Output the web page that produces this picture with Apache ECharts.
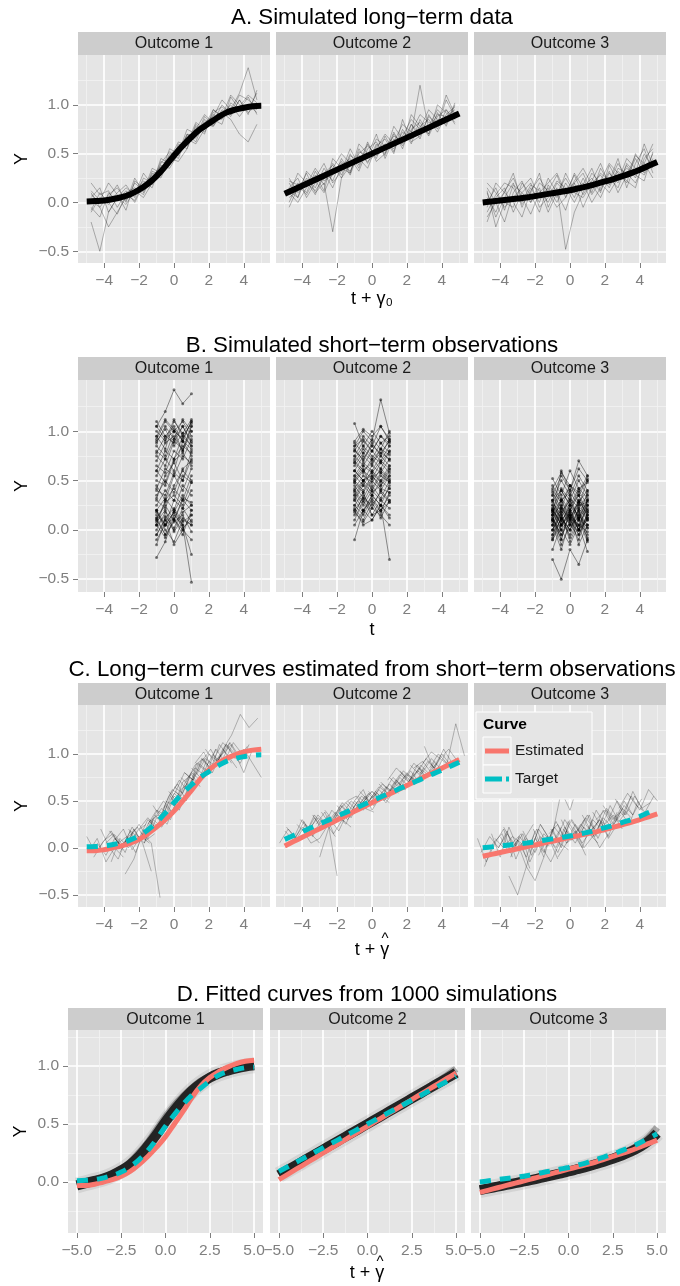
<!DOCTYPE html>
<html><head><meta charset="utf-8">
<script src="https://cdn.jsdelivr.net/npm/echarts@6/dist/echarts.min.js"></script>
<style>html,body{margin:0;padding:0;background:#fff}#c{width:680px;height:1286px}</style>
</head><body><div id="c"></div>
<script>
// ---------------- DATA ----------------
const facetNames = ['Outcome 1', 'Outcome 2', 'Outcome 3'];
const panelTitles = ['A. Simulated long\u2212term data', 'B. Simulated short\u2212term observations',
  'C. Long\u2212term curves estimated from short\u2212term observations', 'D. Fitted curves from 1000 simulations'];
const xTitles = ['t + \u03b3\u2080', 't', 't + \u03b3', 't + \u03b3'];
const xTitleHats = [false, false, true, true];
const yTitle = 'Y';
const legendTitle = 'Curve';
const legendItems = ['Estimated', 'Target'];

const xTicksABC = [-4, -2, 0, 2, 4];
const xLabelsABC = ['\u22124', '\u22122', '0', '2', '4'];
const xMinorABC = [-5, -3, -1, 1, 3, 5];
const xTicksD = [-5, -2.5, 0, 2.5, 5];
const xLabelsD = ['\u22125.0', '\u22122.5', '0.0', '2.5', '5.0'];
const xMinorD = [-3.75, -1.25, 1.25, 3.75];
const yTicksABC = [-0.5, 0, 0.5, 1];
const yLabelsABC = ['\u22120.5', '0.0', '0.5', '1.0'];
const yTicksD = [0, 0.5, 1];
const yLabelsD = ['0.0', '0.5', '1.0'];
const yMinor = [-0.25, 0.25, 0.75, 1.25];

// smooth curves, evaluated at curveX
const curveX = [-5,-4.5,-4,-3.5,-3,-2.5,-2,-1.5,-1,-0.5,0,0.5,1,1.5,2,2.5,3,3.5,4,4.5,5];
const target1 = [0.01,0.014,0.02,0.035,0.055,0.085,0.13,0.19,0.27,0.37,0.48,0.58,0.67,0.75,0.81,0.87,0.92,0.95,0.97,0.985,0.99];
const target2 = [0.09,0.131,0.172,0.213,0.254,0.295,0.336,0.377,0.418,0.459,0.5,0.541,0.582,0.623,0.664,0.705,0.746,0.787,0.828,0.869,0.91];
const target3 = [0.0,0.01,0.02,0.03,0.04,0.05,0.065,0.08,0.095,0.11,0.125,0.145,0.165,0.19,0.215,0.24,0.27,0.3,0.335,0.375,0.415];
const estimate1 = [-0.03,-0.03,-0.02,0.0,0.02,0.05,0.09,0.15,0.22,0.3,0.39,0.5,0.61,0.73,0.83,0.9,0.95,0.99,1.02,1.04,1.05];
const estimate2 = [0.02,0.066,0.112,0.158,0.204,0.25,0.296,0.342,0.388,0.434,0.48,0.526,0.572,0.618,0.664,0.71,0.756,0.802,0.848,0.894,0.94];
const estimate3 = [-0.09,-0.07,-0.05,-0.03,-0.01,0.01,0.03,0.05,0.07,0.09,0.11,0.13,0.15,0.17,0.195,0.22,0.245,0.27,0.3,0.33,0.36];
// bundle of 1000 fitted curves (panel D): dense core and upper spread
const bandCore1 = [-0.03,-0.01,0.01,0.03,0.06,0.1,0.15,0.22,0.31,0.41,0.52,0.62,0.71,0.79,0.85,0.9,0.935,0.96,0.98,0.995,1.005];
const bandCore2 = [0.06,0.104,0.148,0.192,0.236,0.28,0.324,0.368,0.412,0.456,0.5,0.544,0.588,0.632,0.676,0.72,0.764,0.808,0.852,0.896,0.94];
const bandCore3 = [-0.07,-0.055,-0.04,-0.025,-0.01,0.005,0.02,0.037,0.054,0.072,0.09,0.11,0.13,0.152,0.175,0.2,0.228,0.26,0.3,0.35,0.42];
const bandUpper1 = [-0.02,0.0,0.02,0.04,0.07,0.11,0.17,0.25,0.34,0.45,0.56,0.66,0.74,0.81,0.87,0.91,0.945,0.97,0.99,1.005,1.02];
const bandUpper2 = [0.07,0.114,0.158,0.202,0.246,0.29,0.334,0.378,0.422,0.466,0.51,0.554,0.598,0.642,0.686,0.73,0.776,0.822,0.868,0.918,0.975];
const bandUpper3 = [-0.06,-0.045,-0.03,-0.015,0.0,0.015,0.03,0.047,0.064,0.082,0.1,0.12,0.14,0.162,0.186,0.212,0.242,0.278,0.322,0.38,0.47];

// long-term simulated trajectories (panel A), observed at longX
const longX = [-4.75,-4.25,-3.75,-3.25,-2.75,-2.25,-1.75,-1.25,-0.75,-0.25,0.25,0.75,1.25,1.75,2.25,2.75,3.25,3.75,4.25,4.75];
const longTerm1 = [
  [0.1,-0.05,0.08,0.15,0.02,0.2,0.12,0.35,0.3,0.5,0.48,0.7,0.62,0.85,0.78,0.95,0.88,1.05,0.92,1.0],
  [-0.1,0.05,-0.02,0.1,0.18,0.05,0.25,0.2,0.42,0.38,0.6,0.55,0.8,0.72,0.9,0.85,1.02,0.95,1.08,0.9],
  [0.2,0.08,0.12,-0.05,0.1,0.15,0.08,0.3,0.25,0.45,0.62,0.58,0.75,0.9,0.82,1.0,0.9,0.98,1.1,1.02],
  [0.05,0.15,-0.1,0.05,-0.02,0.12,0.22,0.15,0.4,0.52,0.45,0.68,0.72,0.78,0.95,0.88,1.1,1.0,0.95,1.12],
  [-0.05,-0.15,0.1,0.02,0.12,0.0,0.18,0.28,0.35,0.42,0.58,0.62,0.66,0.88,0.8,0.92,0.85,0.7,0.62,0.8],
  [0.12,0.02,0.2,0.08,-0.08,0.22,0.15,0.22,0.3,0.55,0.5,0.75,0.7,0.82,0.88,1.05,0.95,1.12,1.38,1.05],
  [-0.2,-0.5,-0.1,0.05,0.15,0.08,0.3,0.18,0.45,0.4,0.52,0.6,0.82,0.75,0.85,0.8,1.08,0.95,1.0,0.95],
  [0.08,0.0,0.05,0.18,0.0,0.25,0.1,0.32,0.28,0.48,0.55,0.65,0.6,0.75,0.92,0.98,0.9,1.05,0.9,1.15],
  [-0.08,0.1,0.0,-0.12,0.08,0.02,0.2,0.25,0.38,0.35,0.5,0.7,0.68,0.8,0.78,0.9,1.0,0.88,1.0,0.92],
  [0.02,-0.05,-0.25,-0.1,0.05,0.12,0.05,0.2,0.32,0.45,0.42,0.55,0.78,0.7,0.95,0.88,0.92,1.1,1.05,0.98]
];
const longTerm2 = [
  [0.2,0.05,0.25,0.15,0.35,0.22,0.45,0.3,0.55,0.4,0.6,0.5,0.72,0.55,0.8,0.65,0.9,0.75,0.95,0.85],
  [0.0,0.2,0.1,0.32,0.18,0.4,0.28,0.5,0.35,0.6,0.45,0.68,0.52,0.75,0.6,0.85,0.7,0.92,0.78,1.0],
  [0.15,0.25,0.05,0.2,0.3,0.15,0.38,0.45,0.32,0.55,0.62,0.48,0.7,0.58,0.75,0.82,0.68,0.88,0.95,0.8],
  [0.05,0.12,0.3,0.1,0.2,-0.3,0.25,0.38,0.48,0.42,0.5,0.6,0.55,0.72,0.65,0.78,0.85,0.72,0.9,0.98],
  [0.25,0.1,0.18,0.35,0.22,0.28,0.4,0.32,0.5,0.58,0.48,0.55,0.68,0.62,0.8,0.7,0.78,0.95,0.85,0.92],
  [-0.05,0.15,0.22,0.08,0.3,0.38,0.25,0.48,0.42,0.45,0.65,0.58,0.62,0.8,0.72,0.9,0.82,0.78,1.05,0.88],
  [0.1,0.0,0.15,0.28,0.12,0.45,0.35,0.3,0.6,0.5,0.55,0.7,0.6,0.68,0.85,0.75,0.95,0.85,0.8,1.02],
  [0.22,0.18,0.08,0.25,0.4,0.2,0.32,0.55,0.38,0.62,0.42,0.5,0.78,0.65,0.7,1.2,0.75,0.9,0.88,0.95],
  [0.08,0.3,0.2,0.12,0.25,0.35,0.5,0.4,0.45,0.35,0.58,0.65,0.5,0.85,0.62,0.68,0.88,0.8,1.1,0.9],
  [0.12,0.05,0.32,0.22,0.1,0.3,0.42,0.28,0.52,0.48,0.7,0.45,0.65,0.6,0.9,0.78,0.7,1.0,0.92,0.82]
];
const longTerm3 = [
  [0.1,-0.15,0.05,0.2,-0.05,0.15,0.0,0.25,0.1,-0.08,0.2,0.3,0.1,0.35,0.2,0.4,0.25,0.45,0.3,0.5],
  [-0.2,0.05,0.15,-0.1,0.1,0.2,-0.05,0.05,0.22,0.15,0.0,0.18,0.35,0.12,0.3,0.2,0.38,0.25,0.5,0.35],
  [0.15,0.0,-0.2,0.1,0.22,0.0,0.15,-0.1,0.1,0.25,0.1,0.05,0.2,0.28,0.15,0.35,0.3,0.2,0.4,0.6],
  [-0.05,0.2,0.1,0.0,-0.15,0.12,0.25,0.1,-0.05,0.05,0.3,0.15,0.25,0.1,0.38,0.22,0.45,0.35,0.28,0.45],
  [0.05,-0.1,0.12,0.25,0.05,-0.12,0.1,0.2,0.3,0.1,0.2,-0.05,0.15,0.3,0.22,0.45,0.15,0.4,0.55,0.3],
  [0.2,0.1,-0.05,0.05,0.15,0.25,0.05,0.15,0.0,0.2,0.05,0.25,0.08,0.22,0.4,0.3,0.2,0.5,0.35,0.42],
  [-0.1,0.08,0.2,0.15,-0.02,0.1,0.3,-0.05,0.15,-0.48,-0.1,0.1,0.3,0.2,0.1,0.25,0.35,0.28,0.22,0.52],
  [0.0,0.15,-0.08,0.18,0.1,0.0,0.2,0.12,0.28,0.05,0.22,0.35,0.18,0.05,0.25,0.15,0.4,0.3,0.6,0.38],
  [0.12,-0.25,0.0,-0.05,0.2,0.08,-0.1,0.18,0.05,0.3,0.12,0.2,0.0,0.15,0.32,0.1,0.28,0.48,0.4,0.25],
  [-0.15,0.0,0.1,0.3,0.0,0.18,0.12,0.0,0.2,0.1,0.28,0.08,0.22,0.4,0.18,0.32,0.22,0.15,0.45,0.55]
];

// short-term observations (panel B) at shortT; panel C shifts each subject by its estimated gamma
const shortT = [-1, -0.5, 0, 0.5, 1];
const gammaHat1 = [-4.0,-3.6,-3.2,-2.9,-2.6,-2.3,-2.0,-1.8,-1.5,-1.2,-1.0,-0.7,-0.4,-0.1,0.2,0.5,0.8,1.1,1.4,1.7,2.0,2.3,2.6,2.9,3.2,3.5,3.8,4.0,-3.9,-0.2,
  -3.4,-2.7,-2.1,-1.6,-0.9,-0.5,0.0,0.4,1.0,1.6,2.2,2.8,3.3,-2.4,0.7];
const shortObs1 = [
  [0.12,-0.05,0.08,0.15,-0.02],[-0.1,0.05,0.18,0.02,0.1],[0.2,0.0,-0.12,0.1,0.05],[0.05,0.14,0.02,0.22,0.08],
  [-0.15,0.1,0.0,0.18,0.25],[0.1,-0.05,0.2,0.05,-0.25],[0.0,0.18,0.1,0.3,0.2],[-0.28,-0.12,0.15,0.05,-0.53],
  [0.12,0.25,0.1,0.32,0.28],[0.15,0.05,0.3,0.22,0.4],[0.2,0.32,0.2,0.45,0.35],[0.05,0.3,0.42,0.3,0.55],
  [0.3,0.22,0.45,0.6,0.5],[0.35,0.5,0.38,0.62,0.7],[0.32,0.55,0.68,0.5,0.8],[0.5,0.45,0.7,0.78,0.65],
  [0.55,0.72,0.6,0.9,0.82],[0.6,0.8,0.72,0.95,0.85],[0.75,0.65,0.9,0.82,1.05],[0.7,0.88,0.95,0.8,1.0],
  [0.85,0.75,1.0,0.92,1.1],[0.78,0.95,0.88,1.05,0.9],[0.95,0.82,1.1,0.98,0.85],[0.88,1.05,0.92,1.12,1.0],
  [1.0,0.9,1.12,0.95,1.08],[0.92,1.1,1.0,0.8,1.05],[1.05,1.2,1.42,1.28,1.38],[1.1,0.95,1.05,0.9,0.75],
  [-0.05,0.1,-0.15,0.0,-0.1],[0.45,0.3,0.55,0.4,0.62],
  [0.05,-0.08,0.1,0.0,0.15],[0.18,0.05,0.12,-0.05,0.2],[-0.05,0.12,0.22,0.08,0.15],[0.2,0.05,0.18,0.35,0.25],
  [0.1,0.28,0.35,0.25,0.48],[0.25,0.4,0.3,0.55,0.48],[0.4,0.35,0.58,0.5,0.72],[0.42,0.62,0.55,0.75,0.68],
  [0.65,0.58,0.8,0.72,0.92],[0.8,0.72,0.92,1.05,0.88],[0.9,1.02,0.85,0.98,1.12],[1.05,0.92,1.0,1.1,0.95],
  [0.95,1.12,1.02,0.9,1.1],[0.08,0.2,-0.02,0.12,0.05],[0.6,0.48,0.72,0.85,0.78]
];
const gammaHat2 = [-4.3,-3.9,-3.5,-3.1,-2.8,-2.4,-2.0,-1.7,-1.3,-1.0,-0.7,-0.4,-0.1,0.2,0.5,0.8,1.1,1.4,1.7,2.0,2.3,2.6,2.9,3.2,3.6,4.0,4.3,-3.0,0.0,-2.2,
  -4.0,-3.3,-2.6,-1.9,-1.2,-0.5,0.3,0.9,1.5,2.1,2.7,3.4,-0.9,1.9,3.9];
const shortObs2 = [
  [0.05,0.2,0.1,0.25,0.15],[0.22,0.1,0.28,0.12,0.3],[0.1,0.3,0.15,0.2,0.35],[0.3,0.18,0.35,0.25,0.12],
  [0.15,0.35,0.22,0.4,0.3],[0.35,0.2,0.3,0.18,0.38],[-0.1,0.2,0.35,0.25,0.45],[0.4,0.28,0.45,0.32,0.5],
  [0.3,0.45,0.35,0.5,0.42],[0.45,0.32,0.5,0.4,0.55],[0.35,0.5,0.42,0.58,0.48],[0.5,0.4,0.55,0.45,0.6],
  [0.42,0.55,0.48,0.62,0.52],[0.55,0.45,0.6,0.5,0.65],[0.48,0.6,0.52,0.68,0.58],[0.6,0.5,0.65,0.58,0.72],
  [0.55,0.68,0.6,0.75,0.65],[0.68,0.58,0.72,0.62,0.8],[0.6,0.75,0.66,0.82,0.7],[0.75,0.65,0.8,0.7,0.85],
  [0.68,0.82,0.72,0.88,0.78],[0.82,0.7,0.88,0.75,0.92],[0.75,0.9,0.8,0.95,0.85],[0.88,0.78,0.92,0.82,1.0],
  [0.8,0.95,0.85,1.05,0.9],[1.08,0.85,1.0,0.88,0.95],[0.85,1.0,0.9,1.32,0.98],[0.2,0.05,0.1,0.25,-0.3],
  [0.5,0.62,0.4,0.55,0.48],[0.25,0.38,0.15,0.3,0.22],
  [0.18,0.08,0.22,0.15,0.05],[0.25,0.15,0.32,0.2,0.28],[0.2,0.32,0.25,0.38,0.28],[0.38,0.25,0.4,0.3,0.42],
  [0.32,0.48,0.38,0.45,0.55],[0.48,0.38,0.52,0.6,0.5],[0.6,0.5,0.58,0.48,0.62],[0.52,0.65,0.58,0.7,0.62],
  [0.7,0.6,0.68,0.78,0.72],[0.65,0.78,0.7,0.82,0.76],[0.8,0.72,0.85,0.78,0.9],[0.85,0.92,0.8,0.95,0.88],
  [0.4,0.5,0.55,0.42,0.38],[0.72,0.85,0.75,0.68,0.8],[0.9,1.02,0.95,1.05,0.92]
];
const gammaHat3 = [-4.3,-3.9,-3.5,-3.1,-2.8,-2.4,-2.0,-1.7,-1.3,-1.0,-0.7,-0.4,-0.1,0.2,0.5,0.8,1.1,1.4,1.7,2.0,2.3,2.6,2.9,3.2,3.6,4.0,-2.5,0.0,-3.3,1.2,
  -4.1,-3.0,-2.2,-1.5,-0.8,-0.2,0.6,1.3,1.9,2.5,3.1,3.8,-1.1,0.3,2.2];
const shortObs3 = [
  [0.1,-0.15,0.05,0.2,-0.1],[-0.2,0.05,0.15,-0.05,0.12],[0.15,-0.1,0.22,0.0,0.1],[0.0,0.18,-0.12,0.1,0.25],
  [0.22,0.05,0.15,-0.15,0.05],[-0.1,0.12,0.0,0.2,-0.05],[0.05,-0.2,0.1,-0.05,0.15],[0.18,0.0,0.25,0.1,-0.12],
  [-0.05,0.2,0.05,0.28,0.1],[0.12,-0.1,0.2,0.0,0.3],[0.25,0.1,-0.05,0.18,0.05],[0.0,0.22,0.1,0.3,0.15],
  [0.2,0.05,0.28,0.12,-0.08],[0.08,0.3,0.15,0.0,0.25],[0.3,0.1,0.2,0.35,0.12],[0.05,0.25,0.12,0.3,0.2],
  [0.28,0.15,0.35,0.1,0.3],[0.1,0.32,0.2,0.4,0.25],[0.35,0.18,0.3,0.12,0.38],[0.15,0.4,0.25,0.35,0.2],
  [0.38,0.22,0.45,0.28,0.4],[0.2,0.42,0.3,0.5,0.35],[0.45,0.3,0.38,0.25,0.5],[0.3,0.5,0.35,0.55,0.4],
  [0.52,0.35,0.6,0.42,0.48],[0.35,0.55,0.4,0.62,0.5],[-0.3,-0.5,-0.2,-0.35,-0.1],[0.15,0.6,0.4,0.7,0.55],
  [0.1,0.0,0.12,0.05,-0.22],[0.22,0.05,0.18,0.0,0.15],
  [-0.05,0.12,0.0,0.15,0.02],[0.12,-0.05,0.08,-0.1,0.18],[0.0,0.15,-0.08,0.12,0.02],[0.1,-0.05,0.15,0.05,0.22],
  [-0.08,0.12,0.0,0.22,0.1],[0.15,0.25,0.05,0.12,0.3],[0.2,0.08,0.25,0.15,0.05],[0.05,0.22,0.12,0.28,0.18],
  [0.25,0.12,0.32,0.22,0.35],[0.3,0.4,0.25,0.42,0.32],[0.4,0.28,0.45,0.35,0.52],[0.42,0.58,0.45,0.38,0.55],
  [0.2,0.0,-0.15,0.05,-0.02],[-0.1,0.05,0.18,0.0,0.12],[0.18,0.3,0.1,0.25,0.28]
];

const targets = [target1, target2, target3];
const estimates = [estimate1, estimate2, estimate3];
const bandCores = [bandCore1, bandCore2, bandCore3];
const bandUppers = [bandUpper1, bandUpper2, bandUpper3];
const longTerms = [longTerm1, longTerm2, longTerm3];
const gammaHats = [gammaHat1, gammaHat2, gammaHat3];
const shortObs = [shortObs1, shortObs2, shortObs3];

// ---------------- LAYOUT / STYLE ----------------
const FONT = "'Liberation Sans', Arial, Helvetica, sans-serif";
const RED = '#F8766D', CYAN = '#00BFC4';
const panels = [
  {stripTop: 32, top: 55, height: 208, yMin: -0.62, yMax: 1.51, lefts: [78, 276, 474], width: 192, titleY: 18, xTitleY: 299},
  {stripTop: 357, top: 380, height: 212, yMin: -0.63, yMax: 1.52, lefts: [78, 276, 474], width: 192, titleY: 346, xTitleY: 630},
  {stripTop: 683, top: 705, height: 202, yMin: -0.63, yMax: 1.52, lefts: [78, 276, 474], width: 192, titleY: 670, xTitleY: 950},
  {stripTop: 1008, top: 1030, height: 203, yMin: -0.44, yMax: 1.31, lefts: [68, 270, 471], width: 195, titleY: 995, xTitleY: 1273}
];

function labeler(vals, labels) {
  return function (v) {
    const i = vals.findIndex(a => Math.abs(a - v) < 1e-9);
    return i >= 0 ? labels[i] : '';
  };
}
function pts(xs, ys, shift) { return xs.map((x, i) => [x + (shift || 0), ys[i]]); }

const grids = [], xAxes = [], yAxes = [], series = [], graphics = [];

panels.forEach((P, p) => {
  const isD = p === 3;
  const xt = isD ? xTicksD : xTicksABC, xl = isD ? xLabelsD : xLabelsABC, xm = isD ? xMinorD : xMinorABC;
  const yt = isD ? yTicksD : yTicksABC, yl = isD ? yLabelsD : yLabelsABC;
  const plotLeft = P.lefts[0], plotRight = P.lefts[2] + P.width;
  const cx = (plotLeft + plotRight) / 2;
  graphics.push({type: 'text', x: cx, y: P.titleY, z: 50,
    style: {text: panelTitles[p], fill: '#000', fontSize: 22.3, fontFamily: FONT, align: 'center', verticalAlign: 'middle'}});
  graphics.push({type: 'text', x: cx, y: P.xTitleY, z: 50,
    style: {text: xTitles[p], fill: '#000', fontSize: 18, fontFamily: FONT, align: 'center', verticalAlign: 'middle'}});
  if (xTitleHats[p]) {
    graphics.push({type: 'text', x: cx + 13, y: P.xTitleY - 11, z: 50,
      style: {text: '^', fill: '#000', fontSize: 15, fontFamily: FONT, align: 'center', verticalAlign: 'middle'}});
  }
  graphics.push({type: 'text', x: isD ? 21 : 22, y: P.top + P.height / 2, rotation: Math.PI / 2, z: 50,
    style: {text: yTitle, fill: '#000', fontSize: 18, fontFamily: FONT, align: 'center', verticalAlign: 'middle'}});

  for (let f = 0; f < 3; f++) {
    const g = grids.length;
    const left = P.lefts[f];
    grids.push({left: left, top: P.top, width: P.width, height: P.height, show: true,
      backgroundColor: '#E5E5E5', borderWidth: 0});
    // strip
    graphics.push({type: 'rect', z: 40, shape: {x: left, y: P.stripTop, width: P.width, height: P.top - P.stripTop},
      style: {fill: '#CDCDCD'}});
    graphics.push({type: 'text', x: left + P.width / 2, y: (P.stripTop + P.top) / 2 + 0.5, z: 50,
      style: {text: facetNames[f], fill: '#1A1A1A', fontSize: 16, fontFamily: FONT, align: 'center', verticalAlign: 'middle'}});
    // axes: major (with ticks/labels) and minor (grid only)
    xAxes.push({gridIndex: g, type: 'value', min: -5.5, max: 5.5, position: 'bottom',
      axisLine: {show: false, onZero: false},
      axisTick: {show: true, length: 5, lineStyle: {color: '#7F7F7F', width: 1}, customValues: xt},
      axisLabel: {show: true, customValues: xt, formatter: labeler(xt, xl), color: '#7F7F7F', fontSize: 15.5, fontFamily: FONT, margin: 10},
      splitLine: {show: true, lineStyle: {color: '#FFFFFF', width: 1.7}}});
    xAxes.push({gridIndex: g, type: 'value', min: -5.5, max: 5.5, position: 'top',
      axisLine: {show: false, onZero: false}, axisTick: {show: false, customValues: xm}, axisLabel: {show: false, customValues: xm},
      splitLine: {show: true, lineStyle: {color: '#F2F2F2', width: 0.8}}});
    yAxes.push({gridIndex: g, type: 'value', min: P.yMin, max: P.yMax, position: 'left',
      axisLine: {show: false, onZero: false},
      axisTick: {show: f === 0, length: 5, lineStyle: {color: '#7F7F7F', width: 1}, customValues: yt},
      axisLabel: {show: f === 0, customValues: yt, formatter: labeler(yt, yl), color: '#7F7F7F', fontSize: 15.5, fontFamily: FONT, margin: 9},
      splitLine: {show: true, lineStyle: {color: '#FFFFFF', width: 1.7}}});
    yAxes.push({gridIndex: g, type: 'value', min: P.yMin, max: P.yMax, position: 'right',
      axisLine: {show: false, onZero: false}, axisTick: {show: false, customValues: yMinor}, axisLabel: {show: false, customValues: yMinor},
      splitLine: {show: true, lineStyle: {color: '#F2F2F2', width: 0.8}}});

    const base = {type: 'line', xAxisIndex: 2 * g, yAxisIndex: 2 * g, symbol: 'none', silent: true, animation: false};
    const thin = {color: 'rgba(0,0,0,0.25)', width: 1};
    if (p === 0) {
      longTerms[f].forEach(tr => series.push(Object.assign({}, base, {data: pts(longX, tr), lineStyle: {color: 'rgba(0,0,0,0.28)', width: 1}, z: 2})));
      series.push(Object.assign({}, base, {data: pts(curveX, targets[f]), smooth: 0.4, lineStyle: {color: '#000', width: 6}, z: 3}));
    } else if (p === 1) {
      shortObs[f].forEach(ob => series.push(Object.assign({}, base, {data: pts(shortT, ob), symbol: 'circle', symbolSize: 3,
        showSymbol: true, itemStyle: {color: 'rgba(0,0,0,0.5)'}, lineStyle: {color: 'rgba(0,0,0,0.42)', width: 1}, z: 2})));
    } else if (p === 2) {
      shortObs[f].forEach((ob, k) => series.push(Object.assign({}, base, {data: pts(shortT, ob, gammaHats[f][k]), lineStyle: thin, z: 2})));
      series.push(Object.assign({}, base, {data: pts(curveX, estimates[f]), smooth: 0.4, lineStyle: {color: RED, width: 5}, z: 3}));
      series.push(Object.assign({}, base, {data: pts(curveX, targets[f]), smooth: 0.4, lineStyle: {color: CYAN, width: 5, type: [11, 9]}, z: 4}));
    } else {
      series.push(Object.assign({}, base, {data: pts(curveX, bandCores[f]), smooth: 0.4, lineStyle: {color: 'rgba(0,0,0,0.08)', width: 16}, z: 2}));
      series.push(Object.assign({}, base, {data: pts(curveX, bandUppers[f]), smooth: 0.4, lineStyle: {color: 'rgba(0,0,0,0.3)', width: 7}, z: 2}));
      series.push(Object.assign({}, base, {data: pts(curveX, bandCores[f]), smooth: 0.4, lineStyle: {color: 'rgba(28,28,28,0.95)', width: 10}, z: 2}));
      series.push(Object.assign({}, base, {data: pts(curveX, estimates[f]), smooth: 0.4, lineStyle: {color: RED, width: 5}, z: 3}));
      series.push(Object.assign({}, base, {data: pts(curveX, targets[f]), smooth: 0.4, lineStyle: {color: CYAN, width: 5, type: [11, 9]}, z: 4}));
    }
  }
});

// legend inside panel C, Outcome 3
const LX = 476, LY = 712;
graphics.push({type: 'rect', z: 60, shape: {x: LX, y: LY, width: 116, height: 87}, style: {fill: '#E5E5E5', stroke: '#FFFFFF', lineWidth: 1}});
graphics.push({type: 'text', x: LX + 7, y: LY + 13, z: 61, style: {text: legendTitle, fill: '#000', fontSize: 15.5, fontWeight: 'bold', fontFamily: FONT, align: 'left', verticalAlign: 'middle'}});
[0, 1].forEach(i => {
  const ky = LY + 25 + i * 28;
  graphics.push({type: 'rect', z: 61, shape: {x: LX + 7, y: ky, width: 28, height: 28}, style: {fill: '#E8E8E8', stroke: '#FFFFFF', lineWidth: 1}});
  graphics.push({type: 'line', z: 62, shape: {x1: LX + 9, y1: ky + 14, x2: LX + 33, y2: ky + 14},
    style: {stroke: i === 0 ? RED : CYAN, lineWidth: 5, lineDash: i === 0 ? null : [17, 4]}});
  graphics.push({type: 'text', x: LX + 39, y: ky + 14, z: 62, style: {text: legendItems[i], fill: '#1A1A1A', fontSize: 15.5, fontFamily: FONT, align: 'left', verticalAlign: 'middle'}});
});

const chart = echarts.init(document.getElementById('c'), null, {renderer: 'canvas', width: 680, height: 1286});
chart.setOption({
  animation: false,
  backgroundColor: '#FFFFFF',
  grid: grids, xAxis: xAxes, yAxis: yAxes, series: series,
  graphic: {elements: graphics}
});
</script></body></html>
